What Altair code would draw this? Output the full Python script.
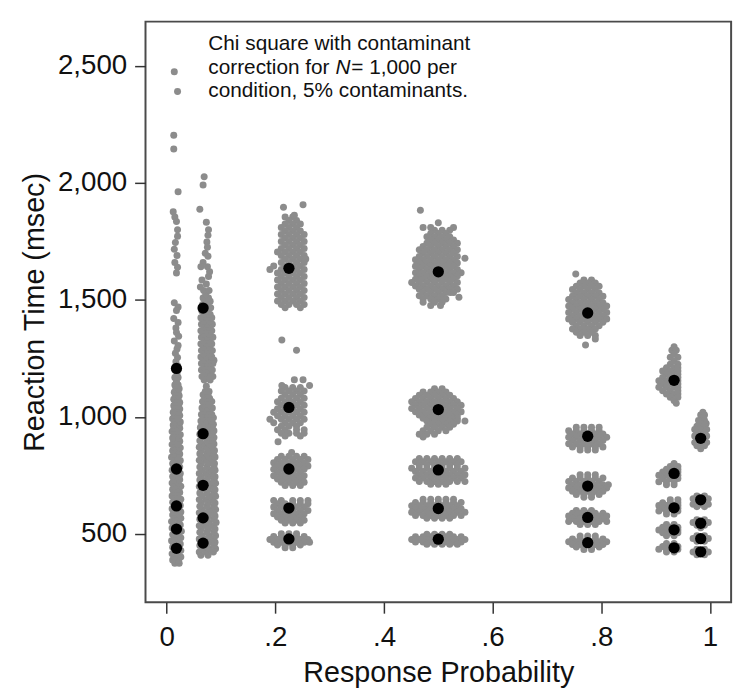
import altair as alt
import pandas as pd

# Column positions (response probability) of the seven conditions
col_x = [0.018, 0.067, 0.225, 0.5, 0.775, 0.934, 0.983]

# Black dots: RT quantiles per condition (msec)
q_rt = [
    [1207, 777, 619, 520, 438],
    [1465, 928, 707, 568, 460],
    [1635, 1040, 777, 610, 478],
    [1620, 1031, 773, 608, 477],
    [1444, 917, 704, 570, 462],
    [1156, 758, 611, 517, 440],
    [908, 645, 545, 479, 423],
]

# Gray simulated quantiles, read as rows: (RT msec, [offsets in 1/1000 probability from column])
c1_rows = [
    (374, [-3, 5]), (388, [-7, 4]), (401, [-4, 8]), (415, [-8, 2]), (428, [-3, 8]), (442, [-7, 5]),
    (456, [-5, 7]), (470, [-9, 3]), (483, [-4, 8]), (497, [-7, 4]), (511, [-3, 9]), (525, [-8, 2]),
    (538, [-5, 7]), (552, [-9, 4]), (566, [-3, 8]), (580, [-7, 5]), (593, [-5, 8]), (607, [-8, 3]),
    (621, [-4, 7]), (635, [-7, 5]), (648, [-3, 8]), (662, [-8, 2]), (676, [-5, 6]), (690, [-7, 4]),
    (703, [-4, 8]), (717, [-8, 3]), (731, [-5, 6]), (745, [-7, 5]), (758, [-3, 7]), (772, [-8, 2]),
    (786, [-5, 6]), (800, [-7, 4]), (813, [-4, 7]), (827, [-9, 2]), (841, [-5, 6]), (855, [-7, 4]),
    (868, [-3, 7]), (882, [-8, 3]), (896, [-5, 6]), (910, [-7, 4]), (923, [-4, 7]), (937, [-8, 2]),
    (951, [-5, 6]), (965, [-6, 5]), (978, [-3, 7]), (992, [-7, 3]), (1006, [-4, 6]), (1020, [-6, 4]),
    (1033, [-3, 6]), (1047, [-5, 4]), (1061, [-2, 6]), (1075, [-5, 3]), (1090, [-2, 5]), (1105, [-4, 3]),
    (1120, [-1, 5]), (1136, [-3, 3]), (1152, [0]), (1168, [-3, 3]), (1184, [1]), (1200, [-2]),
    (1218, [2]), (1236, [-1]), (1254, [2]), (1272, [-2]), (1290, [1]),
    (2476, [-4]), (2391, [2]), (2204, [-5]), (2145, [-5]), (1962, [3]), (1877, [-6]), (1855, [-3]),
    (1835, [0]), (1800, [2]), (1772, [2]), (1745, [-2]), (1717, [-4]), (1690, [1]), (1660, [-3]),
    (1640, [2]), (1615, [0]), (1488, [-4]), (1470, [3]), (1455, [0]), (1420, [-5]), (1403, [3]),
    (1380, [-1]), (1361, [0]), (1345, [4]), (1324, [-4]), (1305, [3]),
]

c2_rows = [
    (408, [-4, 9]), (422, [-7, 6, 19]), (436, [-2, 11, 23]), (450, [-6, 7, 20]), (464, [-3, 10, 22]),
    (478, [-7, 6, 19]), (492, [-2, 11, 23]), (506, [-6, 7, 20]), (520, [-3, 10, 22]), (534, [-7, 6, 19]),
    (548, [-2, 11, 24]), (562, [-6, 7, 20]), (576, [-3, 10, 22]), (590, [-7, 6, 19]), (604, [-2, 11, 23]),
    (618, [-6, 7, 20]), (632, [-3, 10, 22]), (646, [-7, 6, 18]), (660, [-2, 11, 23]), (674, [-6, 7, 20]),
    (688, [-3, 10, 22]), (702, [-7, 6, 19]), (716, [-2, 11, 23]), (730, [-6, 7, 20]), (744, [-3, 10, 22]),
    (758, [-7, 6, 18]), (772, [-2, 11, 22]), (786, [-6, 7, 20]), (800, [-3, 10, 21]), (814, [-7, 6, 18]),
    (828, [-2, 11, 22]), (842, [-6, 7, 19]), (856, [-3, 10, 21]), (870, [-7, 6, 17]), (884, [-2, 11, 20]),
    (898, [-6, 7, 18]), (912, [-3, 10, 20]), (926, [-6, 6, 17]), (940, [-2, 10, 20]), (954, [-5, 7, 17]),
    (968, [-2, 10, 19]), (982, [-4, 7, 16]), (996, [0, 11, 19]), (1010, [-3, 8, 16]), (1024, [1, 12]),
    (1038, [-2, 9, 17]), (1052, [2, 12]), (1066, [-1, 9, 16]), (1080, [3, 12]), (1094, [0, 9]),
    (1108, [4, 11]), (1131, [6]),
    (1158, [2, 13]), (1172, [-2, 9, 18]), (1186, [3, 14]), (1200, [-3, 8, 17]), (1214, [2, 13]),
    (1228, [-3, 8, 18]), (1242, [1, 12, 20]), (1256, [-4, 7, 16]), (1270, [2, 13]), (1284, [-3, 8, 17]),
    (1298, [1, 12]), (1312, [-4, 7, 16]), (1326, [2, 13]), (1340, [-3, 8, 18]), (1354, [1, 12]),
    (1368, [-4, 7, 16]), (1382, [2, 13]), (1396, [-3, 8, 17]), (1410, [1, 12]), (1424, [-4, 7, 16]),
    (1438, [2, 13]), (1452, [-2, 9]), (1466, [3, 14]), (1480, [-1, 9]), (1494, [4, 13]), (1508, [0, 10]),
    (1524, [5]), (1540, [1, 11]),
    (2027, [2]), (1991, [0]), (1888, [-6]), (1832, [6]), (1800, [10]), (1776, [9]), (1748, [7]),
    (1725, [8]), (1700, [4]), (1687, [9]), (1660, [0]), (1642, [8, -4]), (1620, [12]), (1600, [10]),
    (1585, [-2]), (1568, [6]), (1555, [-5]),
]

c3_rows = [
    (1855, [-7, 7]), (1840, [0, 14]), (1825, [-7, 7, 21]), (1810, [-14, 0, 14]), (1795, [-7, 7, 21]),
    (1780, [-14, 0, 14, 28]), (1765, [-7, 7, 21]), (1750, [-14, 0, 14, 28]), (1735, [-7, 7, 21]),
    (1720, [-14, 0, 14, 28]), (1705, [-21, -7, 7, 21]), (1690, [-14, 0, 14, 28]), (1675, [-7, 7, 21, 31]),
    (1660, [-14, 0, 14, 28]), (1645, [-28, -7, 7, 21]), (1630, [-35, -14, 0, 14, 28]), (1615, [-21, -7, 7, 21]),
    (1600, [-14, 0, 14, 28]), (1585, [-21, -7, 7, 21]), (1570, [-14, 0, 14, 28]), (1555, [-21, -7, 7, 21]),
    (1540, [-14, 0, 14, 28]), (1525, [-21, -7, 7, 21]), (1510, [-14, 0, 14, 28]), (1495, [-21, -7, 7, 21]),
    (1480, [-14, 0, 14, 28]), (1466, [-7, 21]),
    (1896, [-10]), (1907, [26]), (1862, [10]), (1329, [-13]), (1285, [14]),
    (1125, [-7, 7, 21]), (1110, [-14, 0, 14, 28]), (1095, [-7, 7, 21]), (1080, [-14, 0, 14, 28]),
    (1065, [-21, -7, 7, 21]), (1050, [-14, 0, 14, 28]), (1035, [-21, -7, 7, 21]), (1020, [-28, -14, 0, 14, 28]),
    (1005, [-21, -7, 7, 21]), (990, [-35, -14, 0, 14, 28]), (975, [-28, -7, 7, 21]), (960, [-14, 0, 14]),
    (945, [-21, -7, 14, 28]), (930, [-14, 0, 14, 28]), (918, [-7, 21]),
    (1134, [-13, 38]), (1159, [10, 26]), (894, [-20]),
    (848, [5]), (832, [-14, 0, 14, 28]), (818, [-21, -7, 7, 21, 35]), (804, [-28, -14, 0, 14, 28]),
    (790, [-21, -7, 7, 21, 35]), (776, [-28, -14, 0, 14, 28]), (762, [-21, -7, 7, 21]),
    (748, [-28, -14, 0, 14, 28]), (734, [-21, -7, 7, 21]), (720, [-14, 0, 14, 28]), (706, [-7, 7, 21]),
    (642, [-28, -14, 7, 21, 35]), (628, [-21, -7, 7, 21, 35]), (614, [-28, -14, 0, 14, 28]),
    (600, [-21, -7, 7, 21, 35]), (586, [-28, -14, 0, 14, 28]), (572, [-21, -7, 7, 21]),
    (558, [-14, 0, 14, 28]), (546, [-7, 7, 21]),
    (500, [-14, 0, 14]), (488, [-28, -14, 0, 14, 28]), (476, [-35, -21, -7, 7, 21, 35]),
    (464, [-28, -14, 0, 14, 28, 38]), (452, [-21, -7, 7, 21]), (440, [-7, 7]),
]

c4_rows = [
    (1883, [-33]), (1830, [0]), (1810, [-28, -14, 28]), (1798, [-7, 7, 21]), (1784, [-14, 0, 14]),
    (1770, [-21, -7, 7, 21]), (1756, [-14, 0, 14, 28]), (1742, [-21, -7, 7, 21, 35]),
    (1728, [-28, -14, 0, 14, 28]), (1714, [-35, -21, -7, 7, 21, 35]), (1700, [-28, -14, 0, 14, 28]),
    (1686, [-35, -21, -7, 7, 21, 35]), (1672, [-42, -28, -14, 0, 14, 28]), (1658, [-35, -21, -7, 7, 21, 35]),
    (1644, [-42, -28, -14, 0, 14, 28]), (1630, [-35, -21, -7, 7, 21, 35]), (1616, [-42, -28, -14, 0, 14, 28, 42]),
    (1602, [-35, -21, -7, 7, 21, 35]), (1588, [-42, -28, -14, 0, 14, 28]), (1574, [-49, -35, -21, -7, 7, 21, 35]),
    (1560, [-42, -28, -14, 0, 14, 28]), (1546, [-35, -21, -7, 7, 21, 35]), (1532, [-28, -14, 0, 14, 22, 28]),
    (1518, [-35, -21, -7, 7]), (1504, [-28, -14, 0, 14]), (1490, [-28, -7, 7]), (1476, [-14, 4]),
    (1678, [49]), (1511, [38]),
    (1120, [-7, 7]), (1106, [-28, -14, 0, 14]), (1092, [-35, -21, -7, 7, 21]), (1078, [-42, -28, -14, 0, 14, 28]),
    (1064, [-49, -35, -21, -7, 7, 21, 35]), (1050, [-42, -28, -14, 0, 14, 28, 42]),
    (1036, [-49, -35, -21, -7, 7, 21, 35]), (1022, [-42, -28, -14, 0, 14, 28, 42]),
    (1008, [-35, -21, -7, 7, 21, 35]), (994, [-28, -14, 0, 14, 28, 35]), (982, [-21, -7, 7, 21, 35, 49]),
    (968, [-14, 0, 14, 28]), (955, [-21, -7, 7, 21]), (940, [-28, -14, 0, 14]), (926, [-35, -21, -7]),
    (914, [-28]),
    (822, [-35, -21, -7, 7, 21, 35]), (808, [-42, -28, -14, 0, 14, 28, 42]), (794, [-35, -21, -7, 7, 21, 35]),
    (780, [-49, -35, -21, -7, 7, 21, 35, 49]), (766, [-42, -28, -14, 0, 14, 28, 42]),
    (752, [-35, -21, -7, 7, 21, 35, 49]), (738, [-42, -28, -14, 0, 14, 28, 42]),
    (724, [-35, -21, -7, 7, 21, 35, 49]), (712, [-14, 0, 14]),
    (648, [-28, -14, 0, 14, 28]), (634, [-42, -28, -14, 0, 14, 28, 42]), (620, [-49, -35, -21, -7, 7, 21, 35]),
    (606, [-42, -28, -14, 0, 14, 28, 42]), (592, [-49, -35, -21, -7, 7, 21, 35, 49]),
    (578, [-42, -28, -14, 0, 14, 28, 42]), (566, [-21, -7, 7, 21]),
    (498, [-21, -7, 7, 21]), (487, [-42, -28, -14, 0, 14, 28, 42]), (476, [-49, -35, -21, -7, 7, 21, 35, 49]),
    (465, [-42, -28, -14, 0, 14, 28, 42]), (455, [-21, -7, 7, 21, 35]),
]

c5_rows = [
    (1611, [-22]), (1585, [-7, 7]), (1572, [-14, 0, 14]), (1558, [-21, -7, 7, 21]), (1544, [-28, -14, 0, 14]),
    (1530, [-21, -7, 7, 21]), (1516, [-28, -14, 0, 14, 28]), (1502, [-35, -21, -7, 7, 21]),
    (1488, [-28, -14, 0, 14, 28]), (1474, [-35, -21, -7, 7, 21, 35]), (1460, [-28, -14, 0, 14, 28]),
    (1446, [-35, -21, -7, 7, 21, 35]), (1432, [-28, -14, 0, 14, 28]), (1418, [-35, -21, -7, 7, 21, 35]),
    (1404, [-28, -14, 0, 14, 28]), (1390, [-21, -7, 7, 21]), (1376, [-28, -14, 0, 14]), (1362, [-21, -7, 7]),
    (1348, [-14, 0, 14]), (1333, [14]), (1307, [-4]),
    (955, [-21, -7, 7, 21]), (941, [-35, -21, -7, 7, 21]), (927, [-28, -14, 0, 14, 28]),
    (913, [-35, -21, -7, 7, 21, 35]), (899, [-28, -14, 0, 14, 28]), (885, [-35, -21, -7, 7, 21]),
    (871, [-28, -14, 0, 14, 28]), (858, [-14, 0, 14]),
    (752, [-14, 0, 14]), (738, [-28, -14, 0, 14, 28]), (724, [-35, -21, -7, 7, 21]),
    (710, [-28, -14, 0, 14, 28, 38]), (696, [-35, -21, -7, 7, 21, 35]), (682, [-28, -14, 0, 14, 28]),
    (668, [-21, -7, 7, 21]), (656, [-7, 7]),
    (600, [-21, -7, 7]), (588, [-28, -14, 0, 14, 28]), (576, [-35, -21, -7, 7, 21, 35]),
    (564, [-28, -14, 0, 14, 28]), (552, [-35, -21, -7, 7, 21, 35]), (540, [-14, 0, 14]),
    (490, [-14, 0, 14]), (478, [-28, -14, 0, 14, 28]), (466, [-35, -21, -7, 7, 21, 35]),
    (454, [-28, -14, 0, 14, 28]), (443, [-21, -7, 7, 21]), (433, [-7, 7]),
]

c6_rows = [
    (1300, [0]), (1285, [-4, 4]), (1270, [0]), (1255, [-7, 7]), (1240, [0]), (1225, [-7, 7]),
    (1210, [-14, 0, 7]), (1196, [-21, -7, 7]), (1182, [-14, 0, 7]), (1168, [-21, -7, 7]),
    (1154, [-28, -14, 0, 7]), (1140, [-21, -7, 7]), (1126, [-28, -14, 0, 7]), (1112, [-21, -7, 7]),
    (1098, [-14, 0, 7]), (1084, [-7, 7]), (1070, [0]), (1058, [4]),
    (800, [0]), (788, [-7, 7]), (776, [-14, 0, 7]), (764, [-21, -7, 7]), (750, [-28, -14, 0, 7]),
    (736, [-21, -7, 7]), (722, [-28, -14, 0]), (710, [-14, 0]),
    (645, [-7, 7]), (633, [-21, -7, 7]), (621, [-28, -14, 0, 7]), (609, [-21, -7, 7]),
    (597, [-28, -14, 0, 7]), (585, [-14, 0]),
    (540, [-14, 0]), (528, [-21, -7, 7]), (516, [-28, -14, 0, 7]), (504, [-21, -7, 7]), (492, [-14, 0]),
    (458, [-14, 0]), (446, [-21, -7, 7]), (434, [-28, -14, 0, 7]), (422, [-14, 0]),
]

c7_rows = [
    (1020, [4]), (1008, [0, 7]), (996, [4]), (984, [-4, 7]), (972, [0, 10]), (960, [-7, 7]),
    (946, [-11, 0, 11]), (932, [-7, 7]), (918, [-11, 0, 11]), (904, [-7, 7]), (890, [-11, 0, 11]),
    (876, [-7, 7]), (864, [0]),
    (662, [-7, 7]), (650, [-14, 0, 14]), (638, [-7, 7]), (626, [-14, 0, 14]), (616, [-7, 7]),
    (560, [-7, 7]), (548, [-14, 0, 14]), (536, [-7, 7]), (526, [0]),
    (492, [-7, 7]), (480, [-14, 0, 14]), (468, [-7, 7]),
    (434, [-7, 7]), (422, [-14, 0, 14]), (410, [-7, 7]),
]

x_ticks = [0, 0.2, 0.4, 0.6, 0.8, 1]
y_ticks = [500, 1000, 1500, 2000, 2500]

note_line1 = "Chi square with contaminant"
note_line2a = "correction for "
note_line2b = "N"
note_line2c = "= 1,000 per"
note_line3 = "condition, 5% contaminants."

# ---- build tables ----
gray_recs = []
for cx, rows in zip(col_x, [c1_rows, c2_rows, c3_rows, c4_rows, c5_rows, c6_rows, c7_rows]):
    for rt, offs in rows:
        for d in offs:
            gray_recs.append({"x": cx + d / 1000.0, "y": rt})
gray_df = pd.DataFrame(gray_recs)

q_recs = []
for cx, qs in zip(col_x, q_rt):
    for rt in qs:
        q_recs.append({"x": cx, "y": rt})
q_df = pd.DataFrame(q_recs)

FONT = "Liberation Sans"

xenc = alt.X(
    "x:Q",
    scale=alt.Scale(domain=[-0.039, 1.039], nice=False, zero=False),
    axis=alt.Axis(
        values=x_ticks,
        labelExpr="datum.value == 0 ? '0' : (datum.value == 1 ? '1' : '.' + format(datum.value * 10, '.0f'))",
        title="Response Probability",
    ),
)
yenc = alt.Y(
    "y:Q",
    scale=alt.Scale(domain=[207, 2690], nice=False, zero=False),
    axis=alt.Axis(
        values=y_ticks,
        labelExpr="format(datum.value, ',.0f')",
        title="Reaction Time (msec)",
    ),
)

gray = alt.Chart(gray_df).mark_circle(size=50, color="#8c8c8c", opacity=1).encode(x=xenc, y=yenc)
black = alt.Chart(q_df).mark_circle(size=130, color="#000000", opacity=1).encode(x=xenc, y=yenc)

def note(txt, px, py, italic=False):
    return alt.Chart(pd.DataFrame({"t": [txt]})).mark_text(
        align="left", baseline="alphabetic", font=FONT, fontSize=21, color="#111111",
        fontStyle="italic" if italic else "normal",
    ).encode(text="t:N", x=alt.value(px), y=alt.value(py))

notes = (
    note(note_line1, 63.5, 29)
    + note(note_line2a, 63.5, 52.5)
    + note(note_line2b, 192, 52.5, italic=True)
    + note(note_line2c, 208, 52.5)
    + note(note_line3, 63.5, 76)
)

chart = (
    alt.layer(gray, black, notes)
    .properties(
        width=592,
        height=587,
        autosize=alt.AutoSizeParams(type="none"),
        padding={"left": 139, "top": 10, "right": 11, "bottom": 94},
    )
    .configure_view(stroke="#4a4a4a", strokeWidth=2)
    .configure_axis(
        domain=False,
        grid=False,
        ticks=True,
        tickColor="#333333",
        tickWidth=1.5,
        tickSize=11,
        labelFont=FONT,
        labelFontSize=28,
        labelColor="#111111",
        titleFont=FONT,
        titleFontSize=29,
        titleFontWeight="normal",
        titleColor="#111111",
    )
    .configure_axisX(labelPadding=11, titlePadding=7)
    .configure_axisY(labelPadding=8, titlePadding=8)
)

chart.save("out.html", embed_options={"renderer": "svg", "actions": False})
